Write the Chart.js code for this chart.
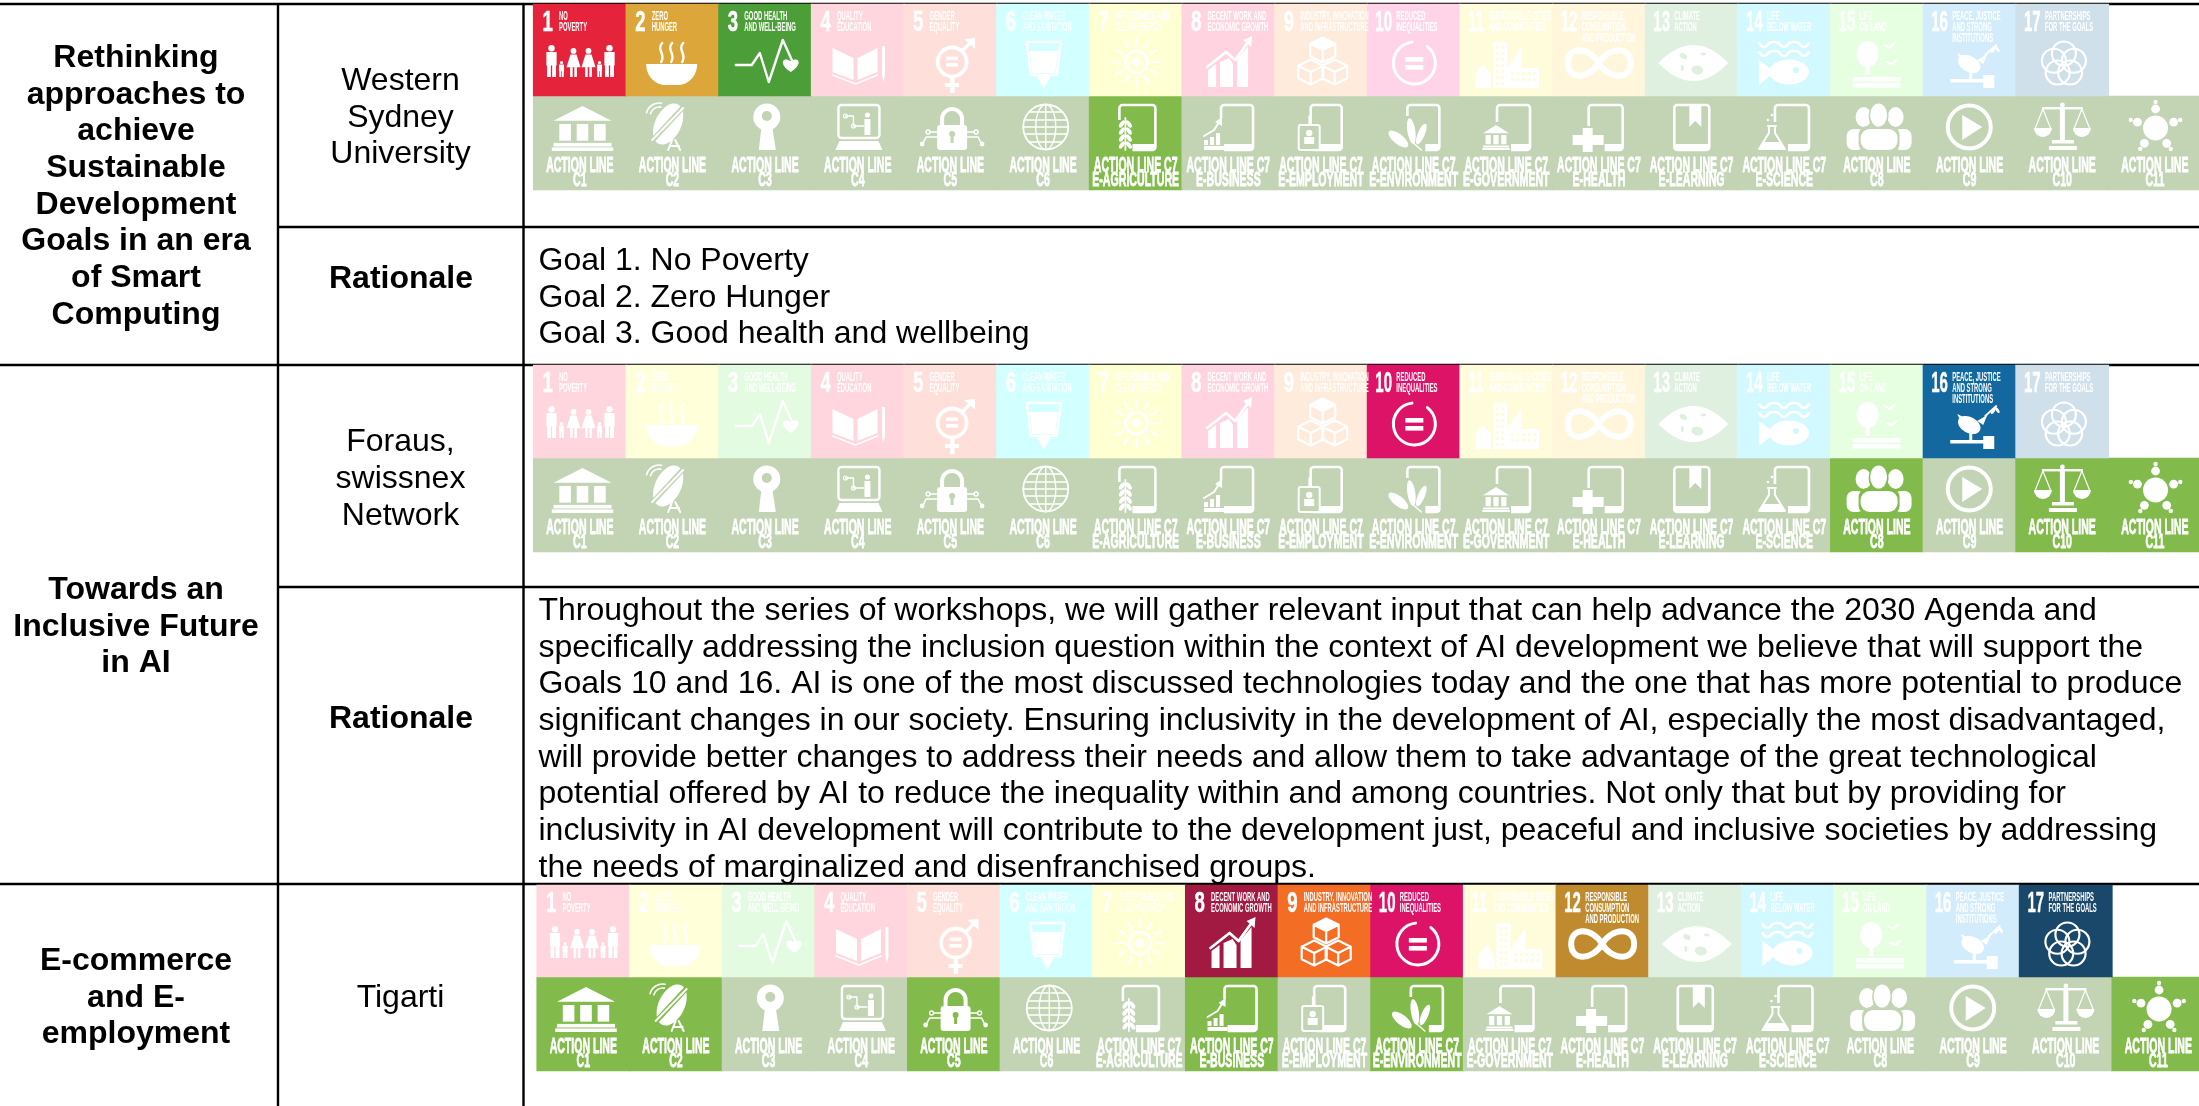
<!DOCTYPE html>
<html>
<head>
<meta charset="utf-8">
<title>SDG and WSIS action line mapping</title>
<script src="https://cdn.jsdelivr.net/npm/chart.js@4"></script>
<style>
  html, body { margin: 0; padding: 0; background: #fff; overflow: hidden; }
  canvas { display: block; }
</style>
</head>
<body>
<canvas id="sdg_chart" width="2199" height="1106"></canvas>
<script>
// the goals and action lines shown as tiles
var goalNumbers = [1, 2, 3, 4, 5, 6, 7, 8, 9, 10, 11, 12, 13, 14, 15, 16, 17];
var goalTitles = [
    ["NO", "POVERTY"], ["ZERO", "HUNGER"], ["GOOD HEALTH", "AND WELL-BEING"], ["QUALITY", "EDUCATION"],
    ["GENDER", "EQUALITY"], ["CLEAN WATER", "AND SANITATION"], ["AFFORDABLE AND", "CLEAN ENERGY"],
    ["DECENT WORK AND", "ECONOMIC GROWTH"], ["INDUSTRY, INNOVATION", "AND INFRASTRUCTURE"],
    ["REDUCED", "INEQUALITIES"], ["SUSTAINABLE CITIES", "AND COMMUNITIES"],
    ["RESPONSIBLE", "CONSUMPTION", "AND PRODUCTION"], ["CLIMATE", "ACTION"], ["LIFE", "BELOW WATER"],
    ["LIFE", "ON LAND"], ["PEACE, JUSTICE", "AND STRONG", "INSTITUTIONS"], ["PARTNERSHIPS", "FOR THE GOALS"]
];
var goalColors = ["#e5243b", "#dda63a", "#4c9f38", "#c5192d", "#ff3a21", "#26bde2", "#fcc30b", "#a21942", "#f36d25",
    "#dd1367", "#fd9d24", "#bf8b2e", "#3f7e44", "#0a97d9", "#56c02b", "#13699f", "#19486a"];
var goalFaded = ["#ffd6dd", "#ffffd9", "#e3fbe0", "#ffd6dd", "#ffdfd9", "#d2ffff", "#ffffd4", "#ffd4e0", "#ffebdb",
    "#ffd4e8", "#fffcdc", "#fff6dc", "#dff0e0", "#d2f9ff", "#e6ffe0", "#d3ecfb", "#d0e0eb"];
var actionCodes = ["C1", "C2", "C3", "C4", "C5", "C6", "E-AGRICULTURE", "E-BUSINESS", "E-EMPLOYMENT", "E-ENVIRONMENT",
    "E-GOVERNMENT", "E-HEALTH", "E-LEARNING", "E-SCIENCE", "C8", "C9", "C10", "C11"];

// which tiles are highlighted for each initiative
var westernGoals = [1, 2, 3];
var westernActions = ["E-AGRICULTURE"];
var forausGoals = [10, 16];
var forausActions = ["C8", "C10", "C11"];
var tigartiGoals = [8, 9, 10, 12, 17];
var tigartiActions = ["C1", "C2", "C5", "E-BUSINESS", "E-ENVIRONMENT", "C11"];

// table text
var titleWestern = ["Rethinking", "approaches to", "achieve", "Sustainable", "Development", "Goals in an era", "of Smart", "Computing"];
var titleForaus = ["Towards an", "Inclusive Future", "in AI"];
var titleTigarti = ["E-commerce", "and E-", "employment"];
var ownerWestern = ["Western", "Sydney", "University"];
var ownerForaus = ["Foraus,", "swissnex", "Network"];
var ownerTigarti = ["Tigarti"];
var rationaleLabel = "Rationale";
var rationaleWestern = ["Goal 1. No Poverty", "Goal 2. Zero Hunger", "Goal 3. Good health and wellbeing"];
var rationaleForaus = [
    "Throughout the series of workshops, we will gather relevant input that can help advance the 2030 Agenda and",
    "specifically addressing the inclusion question within the context of AI development we believe that will support the",
    "Goals 10 and 16. AI is one of the most discussed technologies today and the one that has more potential to produce",
    "significant changes in our society. Ensuring inclusivity in the development of AI, especially the most disadvantaged,",
    "will provide better changes to address their needs and allow them to take advantage of the great technological",
    "potential offered by AI to reduce the inequality within and among countries. Not only that but by providing for",
    "inclusivity in AI development will contribute to the development just, peaceful and inclusive societies by addressing",
    "the needs of marginalized and disenfranchised groups."
];

// layout of the table, in canvas pixels
var tileW = 92.65;
var rowLayouts = [
    { left: 533.5, top: 4, mid: 96, bottom: 190, goals: westernGoals, actions: westernActions },
    { left: 533.5, top: 365, mid: 458, bottom: 552, goals: forausGoals, actions: forausActions },
    { left: 537, top: 885, mid: 977, bottom: 1071, goals: tigartiGoals, actions: tigartiActions }
];
var rules = [
    [0, 4, 2199, 4], [279, 227, 2199, 227], [0, 365, 2199, 365], [279, 587, 2199, 587], [0, 884, 2199, 884],
    [278, 3, 278, 1106], [523.5, 3, 523.5, 1106]
];
var LINE = 36.7;
var textBlocks = [
    { lines: titleWestern, x: 136, y: 58, bold: true, align: "center" },
    { lines: titleForaus, x: 136, y: 590, bold: true, align: "center" },
    { lines: titleTigarti, x: 136, y: 961, bold: true, align: "center" },
    { lines: ownerWestern, x: 400.5, y: 81, align: "center" },
    { lines: ownerForaus, x: 400.5, y: 442.5, align: "center" },
    { lines: ownerTigarti, x: 400.5, y: 998, align: "center" },
    { lines: [rationaleLabel], x: 401, y: 279.5, bold: true, align: "center" },
    { lines: [rationaleLabel], x: 401, y: 719.5, bold: true, align: "center" },
    { lines: rationaleWestern, x: 538.5, y: 261, align: "left" },
    { lines: rationaleForaus, x: 538.5, y: 611, align: "left" }
];

// small drawing helpers for the white pictograms
function poly(c, pts) {
    c.beginPath();
    pts.forEach(function (p, i) { if (i) c.lineTo(p[0], p[1]); else c.moveTo(p[0], p[1]); });
    c.closePath();
    c.fill();
}
function line(c, pts, w) {
    c.lineWidth = w;
    c.beginPath();
    pts.forEach(function (p, i) { if (i) c.lineTo(p[0], p[1]); else c.moveTo(p[0], p[1]); });
    c.stroke();
}
function disk(c, x, y, r) { c.beginPath(); c.arc(x, y, r, 0, Math.PI * 2); c.fill(); }
function ring(c, x, y, r, w) { c.lineWidth = w; c.beginPath(); c.arc(x, y, r, 0, Math.PI * 2); c.stroke(); }
function oval(c, x, y, rx, ry, rot) { c.beginPath(); c.ellipse(x, y, rx, ry, rot || 0, 0, Math.PI * 2); c.fill(); }
function heart(c, x, y, s) {
    c.beginPath();
    c.moveTo(x, y + s);
    c.bezierCurveTo(x - s * 1.6, y, x - s, y - s, x, y - s * 0.35);
    c.bezierCurveTo(x + s, y - s, x + s * 1.6, y, x, y + s);
    c.fill();
}
function cube(c, x, y, s) {
    c.lineWidth = 2.2;
    c.beginPath();
    c.moveTo(x, y - s); c.lineTo(x + s, y - s / 2); c.lineTo(x + s, y + s / 2); c.lineTo(x, y + s);
    c.lineTo(x - s, y + s / 2); c.lineTo(x - s, y - s / 2); c.closePath();
    c.moveTo(x - s, y - s / 2); c.lineTo(x, y); c.lineTo(x + s, y - s / 2);
    c.moveTo(x, y); c.lineTo(x, y + s);
    c.stroke();
}
function phone(c, x0, x1) {
    c.lineWidth = 2.6;
    c.beginPath();
    c.roundRect(x0, 9, x1 - x0, 45, 3);
    c.stroke();
    c.fillRect(x0, 48, x1 - x0, 6);
}
function temple(c, x, w, top, h) {
    poly(c, [[x, top + h * 0.33], [x + w / 2, top], [x + w, top + h * 0.33]]);
    var colW = w * 0.2;
    [0.1, 0.4, 0.7].forEach(function (f) { c.fillRect(x + w * f, top + h * 0.4, colW, h * 0.37); });
    c.fillRect(x, top + h * 0.82, w, h * 0.08);
    c.fillRect(x - w * 0.03, top + h * 0.92, w * 1.06, h * 0.08);
}
function wheat(c, x, y0, y1) {
    line(c, [[x, y0], [x, y1]], 1.8);
    for (var y = y0 + 6; y < y1 - 2; y += 7) {
        oval(c, x - 3.5, y, 2, 4.2, 0.6);
        oval(c, x + 3.5, y, 2, 4.2, -0.6);
    }
}

var goalIcons = [
    function (c) { // people
        [[18, 41, 32], [40, 44, 29], [55, 44, 29], [76, 41, 32], [28, 57, 16], [66, 57, 16]].forEach(function (p, i) {
            var x = p[0], t = p[1], h = p[2];
            disk(c, x, t + h * 0.1, h * 0.1);
            if (i == 1 || i == 2) {
                poly(c, [[x - 3, t + h * 0.22], [x + 3, t + h * 0.22], [x + 7, t + h * 0.66], [x - 7, t + h * 0.66]]);
                c.fillRect(x - 3.4, t + h * 0.66, 2.6, h * 0.34);
                c.fillRect(x + 0.8, t + h * 0.66, 2.6, h * 0.34);
            } else {
                c.fillRect(x - h * 0.16, t + h * 0.22, h * 0.32, h * 0.42);
                c.fillRect(x - h * 0.14, t + h * 0.6, h * 0.12, h * 0.4);
                c.fillRect(x + h * 0.02, t + h * 0.6, h * 0.12, h * 0.4);
            }
        });
    },
    function (c) { // bowl
        c.beginPath(); c.moveTo(20, 60); c.lineTo(71, 60);
        c.bezierCurveTo(71, 72, 62, 81, 52, 81); c.lineTo(39, 81); c.bezierCurveTo(29, 81, 20, 72, 20, 60); c.fill();
        c.lineWidth = 2.4;
        [35, 45, 56].forEach(function (x) {
            c.beginPath(); c.moveTo(x + 1, 39); c.bezierCurveTo(x - 5, 46, x + 5, 50, x, 58); c.stroke();
        });
    },
    function (c) { // heartbeat
        line(c, [[17, 61], [33, 61], [41, 49], [50, 78], [64, 36], [73, 56]], 2.4);
        heart(c, 72, 60, 8);
    },
    function (c) { // book
        poly(c, [[21, 44], [42, 54], [42, 76], [21, 68]]);
        poly(c, [[46, 54], [66, 44], [66, 68], [46, 76]]);
        line(c, [[21, 71], [44, 80], [66, 71]], 1.6);
        c.fillRect(70.5, 42, 3, 30);
        poly(c, [[70.5, 72], [73.5, 72], [72, 78]]);
    },
    function (c) { // gender
        ring(c, 48, 58, 14.5, 3.8);
        c.fillRect(42, 52.5, 12, 3.6); c.fillRect(42, 59, 12, 3.6);
        line(c, [[58, 47], [68, 37]], 3.6);
        poly(c, [[60, 35], [71, 34], [71, 45]]);
        c.fillRect(46, 74, 4.5, 15); c.fillRect(41, 79, 14, 4);
    },
    function (c) { // water
        line(c, [[30, 38], [64, 38], [60, 71], [34, 71], [30, 38]], 2.6);
        poly(c, [[33, 47], [61, 47], [58.5, 69], [35.5, 69]]);
        poly(c, [[40, 72], [54, 72], [47, 85]]);
    },
    function (c) { // sun
        ring(c, 47, 58, 11, 3);
        disk(c, 47, 58, 4.5);
        for (var i = 0; i < 12; i++) {
            var a = i * Math.PI / 6;
            line(c, [[47 + 16 * Math.cos(a), 58 + 16 * Math.sin(a)], [47 + 24 * Math.cos(a), 58 + 24 * Math.sin(a)]], 2.2);
        }
    },
    function (c) { // growth chart
        poly(c, [[26, 66], [34, 60], [34, 83], [26, 83]]);
        poly(c, [[38, 58], [47, 54], [51, 60], [51, 83], [38, 83]]);
        poly(c, [[55, 55], [66, 42], [66, 83], [55, 83]]);
        line(c, [[25, 63], [44, 48], [53, 56], [66, 38]], 2.8);
        poly(c, [[61, 36], [70, 32], [69, 43]]);
    },
    function (c) { // cubes
        cube(c, 48, 46, 12.5); cube(c, 36, 68, 12.5); cube(c, 60, 68, 12.5);
        poly(c, [[48, 34], [60, 40], [48, 46], [36, 40]]);
    },
    function (c) { // reduced inequalities
        c.lineWidth = 3; c.beginPath(); c.arc(47, 59, 21, -0.9, 4.6); c.stroke();
        c.fillRect(38, 53, 18, 4.6); c.fillRect(38, 61, 18, 4.6);
    },
    function (c, color) { // city
        c.fillRect(33, 38, 14, 46);
        c.fillRect(47, 64, 32, 20);
        poly(c, [[47, 64], [62, 43], [62, 64]]);
        poly(c, [[15, 70], [23, 60], [31, 70], [31, 84], [15, 84]]);
        c.fillStyle = color;
        for (var y = 42; y < 82; y += 6) { c.fillRect(36, y, 3, 3); c.fillRect(41, y, 3, 3); }
        for (var k = 0; k < 5; k++) { c.fillRect(51 + k * 5.5, 68, 3, 3); c.fillRect(51 + k * 5.5, 74, 3, 3); }
        c.fillStyle = "#fff";
    },
    function (c) { // infinity
        c.lineWidth = 6;
        c.beginPath(); c.moveTo(46, 59);
        c.bezierCurveTo(56, 42, 78, 42, 78, 59); c.bezierCurveTo(78, 76, 56, 76, 46, 59);
        c.bezierCurveTo(36, 42, 15, 42, 15, 59); c.bezierCurveTo(15, 76, 36, 76, 46, 59);
        c.stroke();
    },
    function (c, color) { // eye with earth
        c.beginPath(); c.moveTo(13, 59); c.quadraticCurveTo(48, 23, 83, 59); c.quadraticCurveTo(48, 95, 13, 59); c.fill();
        c.fillStyle = color;
        oval(c, 38, 52, 4, 2.5, 0.5); oval(c, 52, 66, 6, 4.5, 0.2); oval(c, 37, 64, 1.5, 3); oval(c, 58, 50, 3, 1.4);
        c.fillStyle = "#fff";
    },
    function (c, color) { // fish and waves
        [39, 48].forEach(function (y) {
            c.lineWidth = 2.6; c.beginPath(); c.moveTo(21, y);
            for (var i = 0; i < 5; i++) c.quadraticCurveTo(26 + i * 10, y + 5 * (i % 2 ? -1 : 1) + 3, 31 + i * 10, y);
            c.stroke();
        });
        oval(c, 51, 68, 20, 12.5);
        poly(c, [[21, 56], [37, 68], [21, 81]]);
        c.fillStyle = color; disk(c, 58, 66, 3); c.fillStyle = "#fff";
    },
    function (c) { // tree and birds
        oval(c, 37, 50, 11, 13);
        c.fillRect(35, 58, 4, 13);
        c.fillRect(22, 73, 48, 4.5); c.fillRect(22, 79, 48, 4.5);
        line(c, [[54, 41], [59, 44], [64, 39]], 2); line(c, [[56, 58], [61, 60], [66, 56]], 2);
    },
    function (c) { // dove and gavel
        oval(c, 46, 60, 12, 8, 0.5);
        poly(c, [[34, 49], [46, 55], [42, 67]]);
        poly(c, [[54, 56], [64, 50], [60, 60]]);
        line(c, [[62, 51], [73, 41]], 1.8);
        oval(c, 70, 46, 1.5, 3.5, 0.6); oval(c, 74, 45, 1.5, 3.5, -0.6);
        c.fillRect(46, 66, 3, 10);
        c.fillRect(27, 75, 34, 3.5);
        c.fillRect(60, 71, 11, 13);
    },
    function (c) { // five rings
        for (var i = 0; i < 5; i++) {
            var a = -Math.PI / 2 + i * 2 * Math.PI / 5;
            ring(c, 48 + 10.5 * Math.cos(a), 60 + 10.5 * Math.sin(a), 12, 2.2);
        }
    }
];

var actionIcons = [
    function (c) { temple(c, 20, 58, 10, 45); },
    function (c, color) { // dish
        oval(c, 42, 28, 13, 22, 0.45);
        c.strokeStyle = color; line(c, [[23, 48], [60, 8]], 5);
        c.strokeStyle = "#fff";
        line(c, [[26, 44], [57, 12]], 2);
        line(c, [[46, 44], [42, 54]], 2); line(c, [[49, 44], [54, 54]], 2); line(c, [[44, 50], [53, 50]], 2);
        c.lineWidth = 1.6;
        c.beginPath(); c.arc(33, 20, 9, 3.4, 4.9); c.stroke();
        c.beginPath(); c.arc(33, 20, 13, 3.4, 4.9); c.stroke();
    },
    function (c, color) { // keyhole
        disk(c, 48, 21, 13.5);
        poly(c, [[43, 28], [53, 28], [57, 54], [40, 54]]);
        c.fillStyle = color; disk(c, 48, 20, 5); c.fillStyle = "#fff";
    },
    function (c) { // teaching screen
        c.lineWidth = 2.4; c.beginPath(); c.roundRect(27, 9, 41, 33, 3); c.stroke();
        disk(c, 56, 19, 2.6); c.fillRect(53, 23, 6, 16);
        line(c, [[34, 20], [42, 20], [42, 30], [52, 30]], 1.4);
        ring(c, 34, 20, 2, 1.2); ring(c, 42, 30, 2, 1.2);
        poly(c, [[28, 45], [67, 45], [71, 54], [24, 54]]);
    },
    function (c, color) { // lock
        c.lineWidth = 4; c.beginPath(); c.arc(48, 23, 10, Math.PI, 0); c.lineTo(58, 32); c.moveTo(38, 23); c.lineTo(38, 32); c.stroke();
        c.beginPath(); c.roundRect(33, 29, 30, 25, 3); c.fill();
        line(c, [[33, 41], [22, 41], [19, 47]], 1.6); line(c, [[63, 41], [74, 41], [77, 47]], 1.6);
        line(c, [[33, 36], [26, 36]], 1.6); line(c, [[63, 36], [70, 36]], 1.6);
        ring(c, 24, 36, 2, 1.4); ring(c, 72, 36, 2, 1.4); disk(c, 18, 48, 2.4); disk(c, 78, 48, 2.4);
        c.fillStyle = color; disk(c, 48, 38, 3); c.fillRect(46.5, 39, 3, 8); c.fillStyle = "#fff";
    },
    function (c) { // globe
        ring(c, 49, 31, 22.5, 1.8);
        c.lineWidth = 1.4;
        c.beginPath(); c.ellipse(49, 31, 10, 22.5, 0, 0, Math.PI * 2); c.stroke();
        c.beginPath(); c.moveTo(49, 8.5); c.lineTo(49, 53.5); c.stroke();
        [16, 24, 31, 38, 46].forEach(function (y) {
            var dx = Math.sqrt(22.5 * 22.5 - (y - 31) * (y - 31));
            line(c, [[49 - dx, y], [49 + dx, y]], 1.4);
        });
    },
    function (c, color) { // e-agriculture
        phone(c, 30, 66);
        c.fillStyle = color; c.fillRect(28, 24, 15, 32); c.fillStyle = "#fff";
        wheat(c, 36, 22, 54);
    },
    function (c, color) { // e-business
        phone(c, 39, 71);
        c.fillStyle = color; c.fillRect(20, 22, 22, 34); c.fillStyle = "#fff";
        c.fillRect(22, 50, 20, 4); c.fillRect(22, 44, 4, 5); c.fillRect(28, 41, 4, 8); c.fillRect(34, 37, 4, 12);
        line(c, [[22, 40], [32, 34], [37, 26]], 2);
        poly(c, [[33, 26], [40, 21], [40, 30]]);
    },
    function (c, color) { // e-employment
        phone(c, 36, 67);
        c.beginPath(); c.roundRect(24, 29, 21, 25, 2); c.fillStyle = color; c.fill(); c.fillStyle = "#fff";
        c.lineWidth = 2; c.stroke();
        disk(c, 34.5, 37, 3.2); c.fillRect(29.5, 41, 10, 7);
        line(c, [[34.5, 29], [34.5, 20]], 1.6);
    },
    function (c, color) { // e-environment
        phone(c, 40, 72);
        c.fillStyle = color; c.fillRect(28, 20, 30, 38); c.fillStyle = "#fff";
        oval(c, 31, 43, 5, 12, -0.9);
        oval(c, 44, 35, 4, 13, -0.15);
        oval(c, 54, 38, 3.5, 11, 0.4);
        line(c, [[54, 54], [46, 47]], 1.4);
    },
    function (c, color) { // e-government
        phone(c, 37, 70);
        c.fillStyle = color; c.fillRect(21, 26, 30, 30); c.fillStyle = "#fff";
        temple(c, 23, 26, 29, 25);
    },
    function (c, color) { // e-health
        phone(c, 36, 70);
        c.fillStyle = color; c.fillRect(18, 30, 34, 28); c.fillStyle = "#fff";
        c.fillRect(30, 32, 10, 24); c.fillRect(20, 39, 31, 10);
    },
    function (c) { // e-learning
        phone(c, 29, 64);
        poly(c, [[44, 9], [56, 9], [56, 31], [50, 25], [44, 31]]);
    },
    function (c, color) { // e-science
        phone(c, 37, 71);
        c.fillStyle = color; c.fillRect(18, 26, 32, 30); c.fillStyle = "#fff";
        c.lineWidth = 2;
        c.beginPath(); c.moveTo(30, 30); c.lineTo(38, 30); c.moveTo(31, 30); c.lineTo(31, 37); c.lineTo(21, 53); c.lineTo(47, 53); c.lineTo(37, 37); c.lineTo(37, 30); c.stroke();
        poly(c, [[25, 46], [43, 46], [46, 52], [22, 52]]);
        disk(c, 30, 24, 1.3); disk(c, 34, 19, 1.3);
    },
    function (c, color) { // people group
        oval(c, 33, 21, 8, 10); oval(c, 65, 21, 8, 10);
        c.beginPath(); c.roundRect(16, 33, 18, 21, 7); c.fill();
        c.beginPath(); c.roundRect(63, 33, 18, 21, 7); c.fill();
        c.fillStyle = color; oval(c, 48, 20, 10, 13); c.beginPath(); c.roundRect(28, 30, 41, 27, 9); c.fill(); c.fillStyle = "#fff";
        oval(c, 48, 19, 8.5, 11.5);
        c.beginPath(); c.roundRect(30, 33, 37, 21, 9); c.fill();
    },
    function (c) { // play button
        ring(c, 46, 31, 21.5, 4);
        poly(c, [[39, 19], [59, 31], [39, 44]]);
    },
    function (c) { // scales
        c.fillRect(26, 11, 41, 2.4); disk(c, 46.5, 9, 2.4);
        c.fillRect(44, 11, 5, 34); c.fillRect(36, 44, 22, 3.5); c.fillRect(33, 50, 28, 4);
        [27, 66].forEach(function (x) {
            line(c, [[x, 13], [x - 8, 33]], 1.2); line(c, [[x, 13], [x + 8, 33]], 1.2);
            c.beginPath(); c.arc(x, 32, 9, 0, Math.PI); c.fill();
        });
    },
    function (c) { // round table
        disk(c, 47, 32, 12.5);
        [-90, -18, 54, 126, 198].forEach(function (d) {
            var a = d * Math.PI / 180;
            disk(c, 47 + 19 * Math.cos(a), 32 + 19 * Math.sin(a), 4.4);
            disk(c, 47 + 26 * Math.cos(a), 32 + 26 * Math.sin(a), 2.2);
        });
    }
];

// condensed text: the tile captions are squeezed sideways, heavy adds a thin outline
function squeezed(c, text, x, y, size, sx, align, heavy) {
    c.save();
    c.translate(x, y);
    c.scale(sx, 1);
    c.font = 'bold ' + size + 'px "Liberation Sans"';
    c.textAlign = align;
    c.textBaseline = "alphabetic";
    c.fillText(text, 0, 0);
    if (heavy) {
        c.lineWidth = heavy;
        c.strokeText(text, 0, 0);
    }
    c.restore();
}

function drawGoalCaption(c, i) {
    var two = goalNumbers[i] > 9;
    squeezed(c, String(goalNumbers[i]), two ? 8 : 9, 27, 30, two ? 0.5 : 0.62, "left", 0.5);
    goalTitles[i].forEach(function (t, k) {
        squeezed(c, t, two ? 29 : 25.5, 16 + k * 11, 12.5, 0.47, "left");
    });
}

function drawActionCaption(c, i) {
    var code = actionCodes[i];
    var isC7 = code.charAt(0) == "E";
    squeezed(c, isC7 ? "ACTION LINE C7" : "ACTION LINE", 46.3, 76, 21.5, 0.49, "center", 0.8);
    squeezed(c, code, 46.3, 90, 20, 0.53, "center", 0.8);
}

// table rules and body text go under the tiles
var tablePlugin = {
    id: "tablePlugin",
    beforeDatasetsDraw: function (chart) {
        var c = chart.ctx, sx = chart.scales.x, sy = chart.scales.y;
        c.save();
        c.strokeStyle = "#000";
        c.lineWidth = 2.4;
        rules.forEach(function (r) {
            c.beginPath();
            c.moveTo(sx.getPixelForValue(r[0]), sy.getPixelForValue(r[1]));
            c.lineTo(sx.getPixelForValue(r[2]), sy.getPixelForValue(r[3]));
            c.stroke();
        });
        c.fillStyle = "#000";
        c.textBaseline = "middle";
        textBlocks.forEach(function (b) {
            c.font = (b.bold ? "bold " : "") + '32px "Liberation Sans"';
            c.textAlign = b.align;
            b.lines.forEach(function (t, k) {
                c.fillText(t, sx.getPixelForValue(b.x), sy.getPixelForValue(b.y + k * LINE));
            });
        });
        c.restore();
    },
    // white captions and pictograms on top of the tiles
    afterDatasetsDraw: function (chart) {
        var c = chart.ctx, sx = chart.scales.x, sy = chart.scales.y;
        rowLayouts.forEach(function (row) {
            goalNumbers.forEach(function (n, i) {
                c.save();
                c.translate(sx.getPixelForValue(row.left + i * tileW), sy.getPixelForValue(row.top));
                c.fillStyle = "#fff"; c.strokeStyle = "#fff"; c.lineCap = "round"; c.lineJoin = "round";
                drawGoalCaption(c, i);
                goalIcons[i](c, row.goals.indexOf(n) >= 0 ? goalColors[i] : goalFaded[i]);
                c.restore();
            });
            actionCodes.forEach(function (code, i) {
                c.save();
                c.translate(sx.getPixelForValue(row.left + i * tileW), sy.getPixelForValue(row.mid));
                c.fillStyle = "#fff"; c.strokeStyle = "#fff"; c.lineCap = "round"; c.lineJoin = "round";
                drawActionCaption(c, i);
                actionIcons[i](c, row.actions.indexOf(code) >= 0 ? "#82bb4b" : "#c2d4b4");
                c.restore();
            });
        });
    }
};

// one floating bar per tile
var datasets = [];
rowLayouts.forEach(function (row) {
    datasets.push({
        data: goalNumbers.map(function (n, i) { return { x: row.left + (i + 0.5) * tileW, y: [row.top, row.mid] }; }),
        backgroundColor: goalNumbers.map(function (n, i) { return row.goals.indexOf(n) >= 0 ? goalColors[i] : goalFaded[i]; })
    });
    datasets.push({
        data: actionCodes.map(function (code, i) { return { x: row.left + (i + 0.5) * tileW, y: [row.mid, row.bottom] }; }),
        backgroundColor: actionCodes.map(function (code) { return row.actions.indexOf(code) >= 0 ? "#82bb4b" : "#c2d4b4"; })
    });
});
datasets.forEach(function (d) {
    d.grouped = false;
    d.barThickness = tileW + 0.5;
    d.borderWidth = 0;
});

var ctx = document.getElementById("sdg_chart").getContext("2d");

var myChart = new Chart(ctx, {
    type: "bar",
    data: { datasets: datasets },
    options: {
        responsive: false,
        animation: false,
        layout: { padding: 0 },
        plugins: { legend: { display: false }, tooltip: { enabled: false } },
        scales: {
            x: { type: "linear", min: 0, max: 2199, offset: false, display: false },
            y: { type: "linear", min: 0, max: 1106, reverse: true, display: false }
        }
    },
    plugins: [tablePlugin]
});
</script>
</body>
</html>
